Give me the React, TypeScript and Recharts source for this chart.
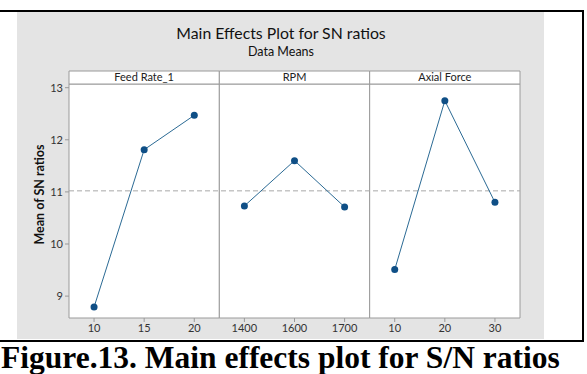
import React from "react";
import {
  LineChart,
  Line,
  XAxis,
  YAxis,
  ReferenceLine,
  ReferenceArea,
} from "recharts";

const categories = ["10", "15", "20", "1400", "1600", "1700", "10", "20", "30"];
const factors = ["Feed Rate_1", "RPM", "Axial Force"];
const feedRate = [8.79, 11.81, 12.47];
const rpm = [10.73, 11.6, 10.71];
const axialForce = [9.51, 12.75, 10.8];
const grandMean = 11.02;
const yTicks = [9, 10, 11, 12, 13];

const Y_MIN = 8.58;
const Y_TOP = 13.07;
const Y_MAX = 13.32;

const data = categories.map((label, i) => ({
  idx: i,
  label,
  fr: i < 3 ? feedRate[i] : null,
  rpm: i >= 3 && i < 6 ? rpm[i - 3] : null,
  af: i >= 6 ? axialForce[i - 6] : null,
}));

const LINE = "#2b6a94";
const DOT = "#0f4f86";
const FONT = "Lato, 'Open Sans', sans-serif";

export default function App() {
  return (
    <div
      style={{
        position: "absolute",
        left: 0,
        top: 0,
        width: 587,
        height: 374,
        background: "#fff",
        overflow: "hidden",
      }}
    >
      {/* border lines */}
      <div style={{ position: "absolute", left: 0, top: 10, width: 584, height: 2, background: "#000" }} />
      <div style={{ position: "absolute", left: 582, top: 10, width: 2, height: 332, background: "#000" }} />
      <div style={{ position: "absolute", left: 0, top: 340, width: 584, height: 2, background: "#000" }} />
      {/* gray panel */}
      <div
        style={{
          position: "absolute",
          left: 17,
          top: 12,
          width: 527,
          height: 327,
          background: "#e4e4e4",
        }}
      />
      <div
        style={{
          position: "absolute",
          left: 17,
          top: 11,
          width: 527,
          height: 327,
        }}
      >
        <LineChart
          width={527}
          height={327}
          data={data}
          margin={{ top: 60, right: 24, bottom: 0, left: 0 }}
        >
          <XAxis
            type="number"
            dataKey="idx"
            domain={[-0.5, 8.5]}
            ticks={[0, 1, 2, 3, 4, 5, 6, 7, 8]}
            tickFormatter={(v: number) => categories[v]}
            axisLine={false}
            tickLine={{ stroke: "#999" }}
            tickSize={4}
            height={20}
            interval={0}
            tick={{ fill: "#333", fontSize: 11, fontFamily: FONT }}
          />
          <YAxis
            type="number"
            domain={[Y_MIN, Y_MAX]}
            ticks={yTicks}
            allowDataOverflow
            axisLine={false}
            tickLine={{ stroke: "#999" }}
            tickSize={4}
            width={52}
            tick={{ fill: "#333", fontSize: 11, fontFamily: FONT }}
            label={{
              value: "Mean of SN ratios",
              angle: -90,
              position: "insideLeft",
              offset: 23,
              style: {
                textAnchor: "middle",
                fontWeight: 700,
                fontSize: 12.5,
                fill: "#111",
                fontFamily: FONT,
              },
            }}
          />
          {factors.map((f, k) => (
            <ReferenceArea
              key={"p" + k}
              x1={-0.5 + 3 * k}
              x2={2.5 + 3 * k}
              y1={Y_MIN}
              y2={Y_TOP}
              fill="#fff"
              fillOpacity={1}
              stroke="#9a9a9a"
              strokeWidth={1}
            />
          ))}
          {factors.map((f, k) => (
            <ReferenceArea
              key={"h" + k}
              x1={-0.5 + 3 * k}
              x2={2.5 + 3 * k}
              y1={Y_TOP}
              y2={Y_MAX}
              fill="#fff"
              fillOpacity={1}
              stroke="#9a9a9a"
              strokeWidth={1}
              label={{
                value: f,
                position: "center",
                fill: "#222",
                fontSize: 11,
                fontFamily: FONT,
              }}
            />
          ))}
          <ReferenceLine
            y={grandMean}
            stroke="#a8a8a8"
            strokeDasharray="5 3"
            strokeWidth={1}
          />
          {["fr", "rpm", "af"].map((k) => (
            <Line
              key={k}
              dataKey={k}
              stroke={LINE}
              strokeWidth={1}
              dot={{ r: 3.5, fill: DOT, stroke: DOT, strokeWidth: 0 }}
              activeDot={false}
              connectNulls={false}
              isAnimationActive={false}
            />
          ))}
        </LineChart>
      </div>
      {/* titles */}
      <div
        style={{
          position: "absolute",
          left: 0,
          top: 24,
          width: 562,
          textAlign: "center",
          fontFamily: FONT,
          fontSize: 15.8,
          color: "#111",
          lineHeight: "18px",
        }}
      >
        Main Effects Plot for SN ratios
      </div>
      <div
        style={{
          position: "absolute",
          left: 0,
          top: 45,
          width: 562,
          textAlign: "center",
          fontFamily: FONT,
          fontSize: 12.5,
          color: "#111",
          lineHeight: "14px",
        }}
      >
        Data Means
      </div>
      <div
        style={{
          position: "absolute",
          left: 1,
          top: 342,
          whiteSpace: "nowrap",
          fontFamily: "'Liberation Serif', 'Times New Roman', serif",
          fontWeight: 700,
          fontSize: 31.5,
          color: "#000",
          lineHeight: "32px",
        }}
      >
        Figure.13. Main effects plot for S/N ratios
      </div>
    </div>
  );
}
